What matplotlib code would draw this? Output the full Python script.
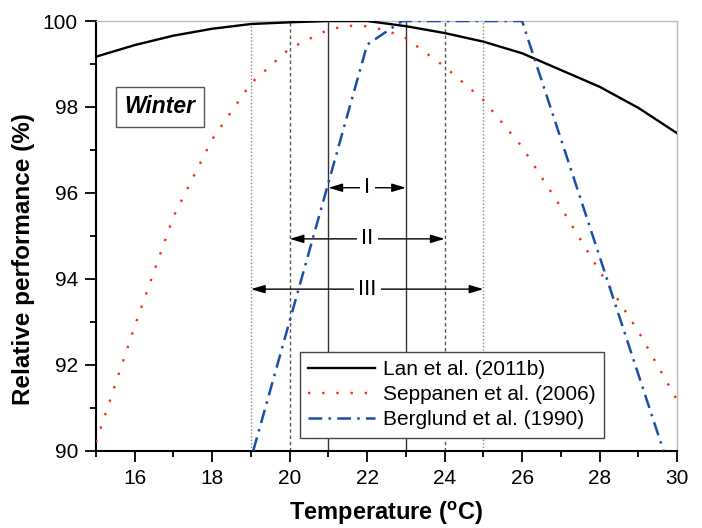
import matplotlib
matplotlib.use("Agg")
import matplotlib.pyplot as plt
from matplotlib.ticker import MultipleLocator

plt.rcParams['font.family'] = ['Liberation Sans', 'DejaVu Sans']
plt.rcParams['mathtext.fontset'] = 'custom'
plt.rcParams['mathtext.rm'] = 'Liberation Sans'
plt.rcParams['mathtext.bf'] = 'Liberation Sans:bold'

# ---- data ----
lan_t = [15, 16, 17, 18, 19, 20, 21, 22, 23, 24, 25, 26, 27, 28, 29, 30]
lan_p = [99.17, 99.44, 99.66, 99.82, 99.93, 99.97, 100.0, 100.0, 99.88, 99.72,
         99.52, 99.25, 98.86, 98.47, 97.98, 97.39]

sep_t = [15, 16, 17, 18, 19, 20, 21, 21.5, 22, 22.5, 23, 24, 25, 26, 27, 28, 29, 30]
sep_p = [90.2, 92.9, 95.45, 97.25, 98.55, 99.36, 99.80, 99.89, 99.88, 99.78, 99.6,
         98.94, 98.16, 97.07, 95.67, 94.18, 92.78, 91.18]

ber_t = [19.06, 22.0, 22.9, 26.0, 29.65]
ber_p = [90.0, 99.45, 100.0, 100.0, 90.0]

bound_t = [19, 20, 21, 23, 24, 25]
range_labels = ['I', 'II', 'III']
range_lo = [21, 20, 19]
range_hi = [23, 24, 25]
range_y = [96.12, 94.93, 93.76]

fig = plt.figure(figsize=(7.02, 5.28), dpi=100)
ax = fig.add_axes([0.1368, 0.1464, 0.9644 - 0.1368, 0.9602 - 0.1464])

# vertical boundary lines
vstyles = {19: ('#888888', (0, (1, 1.5))), 20: ('#555555', (0, (2.5, 2))),
           21: ('#333333', '-'), 23: ('#333333', '-'),
           24: ('#555555', (0, (2.5, 2))), 25: ('#888888', (0, (1, 1.5)))}
for t in bound_t:
    c, ls = vstyles[t]
    ax.axvline(t, color=c, ls=ls, lw=1.0, zorder=1)

ax.plot(lan_t, lan_p, color='black', lw=1.7, label='Lan et al. (2011b)', zorder=3)
ax.plot(sep_t, sep_p, color='#ff2a10', lw=1.7, ls=(0, (1, 5)),
        label='Seppanen et al. (2006)', zorder=3)
ax.plot(ber_t, ber_p, color='#1a4fa6', lw=1.8, ls=(0, (5.5, 2.5, 1, 2.5)),
        label='Berglund et al. (1990)', zorder=3)

# range arrows
for lab, lo, hi, y in zip(range_labels, range_lo, range_hi, range_y):
    mid = (lo + hi) / 2
    for end in (lo, hi):
        ax.annotate('', xy=(end, y), xytext=(mid, y),
                    arrowprops=dict(arrowstyle='-|>,head_length=0.6,head_width=0.18',
                                    color='black', lw=1.0,
                                    mutation_scale=14, shrinkA=0, shrinkB=0),
                    zorder=4)
    ax.text(mid, y, lab, ha='center', va='center', fontsize=16, zorder=5,
            bbox=dict(boxstyle='square,pad=0.2', fc='white', ec='none'))

ax.text(16.65, 98.0, 'Winter', ha='center', va='center', fontsize=16.5,
        fontweight='bold', fontstyle='italic', zorder=5,
        bbox=dict(boxstyle='square,pad=0.38', fc='white', ec='#555555', lw=1.0))

ax.set_xlim(15, 30)
ax.set_ylim(90, 100)
ax.xaxis.set_major_locator(MultipleLocator(2))
ax.xaxis.set_minor_locator(MultipleLocator(1))
ax.yaxis.set_major_locator(MultipleLocator(2))
ax.yaxis.set_minor_locator(MultipleLocator(1))
ax.set_xticks([16, 18, 20, 22, 24, 26, 28, 30])
ax.tick_params(axis='both', which='major', direction='out', length=8, width=1.3,
               labelsize=15, pad=5)
ax.tick_params(axis='both', which='minor', direction='out', length=4, width=1.3)
ax.tick_params(top=False, right=False, which='both')

for s in ('left', 'bottom'):
    ax.spines[s].set_color('black')
    ax.spines[s].set_linewidth(1.5)
for s in ('top', 'right'):
    ax.spines[s].set_color('#bbbbbb')
    ax.spines[s].set_linewidth(1.0)

ax.set_xlabel(r'Temperature ($\mathbf{^o}$C)', fontsize=17, fontweight='bold', labelpad=9)
ax.set_ylabel('Relative performance (%)', fontsize=17.5, fontweight='bold', labelpad=10)
ax.yaxis.set_label_coords(-0.105, 0.446)

leg = ax.legend(loc='lower left', bbox_to_anchor=(0.351, 0.03), borderaxespad=0,
                fontsize=15, frameon=True, fancybox=False, edgecolor='#444444',
                framealpha=1, handlelength=3.2, borderpad=0.4, labelspacing=0.3,
                handletextpad=0.4)
leg.get_frame().set_linewidth(1.0)
leg.set_zorder(6)

fig.savefig('out.png', dpi=100)
